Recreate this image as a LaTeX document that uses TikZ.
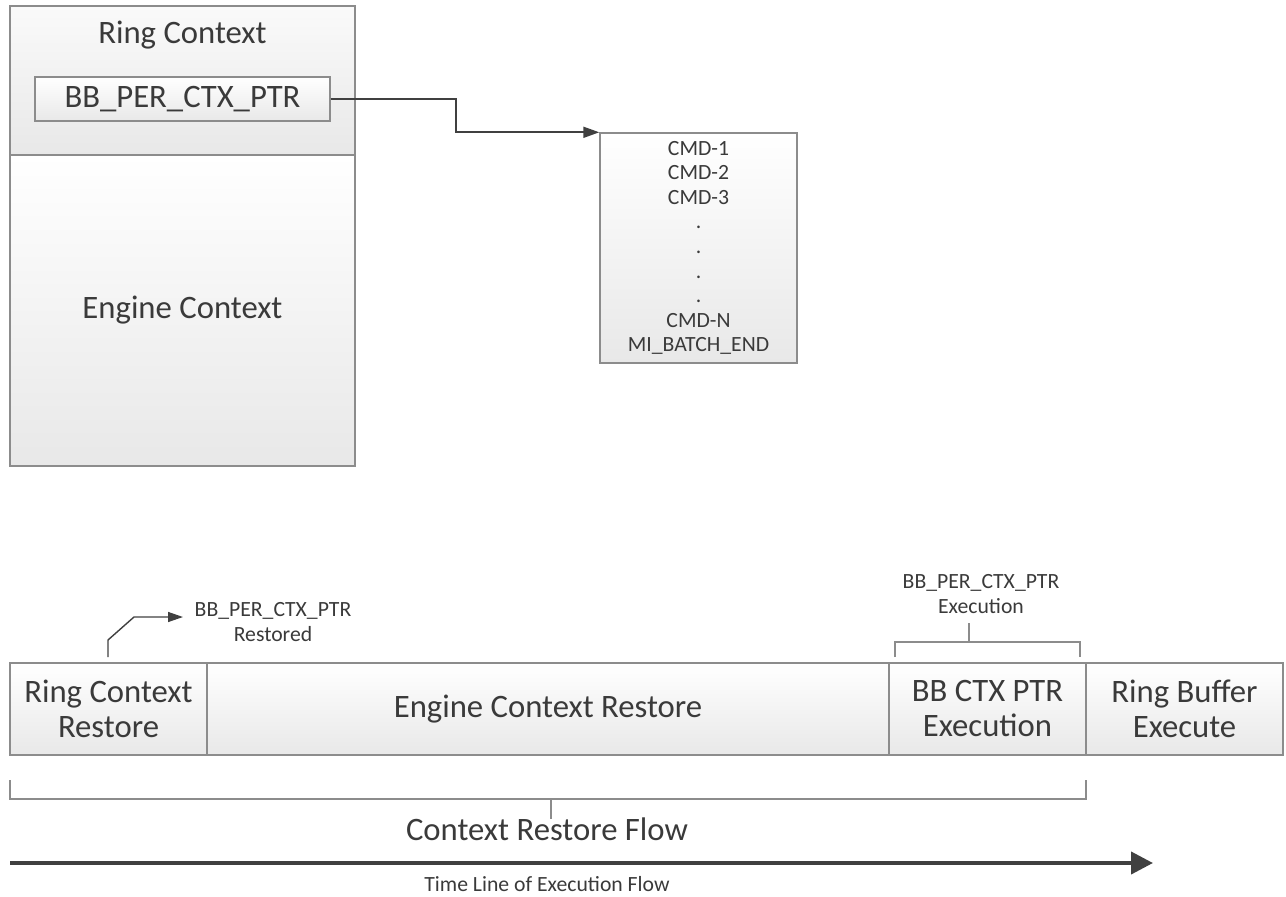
\documentclass[tikz,border=0pt]{standalone}
\usepackage{fontspec}
\setmainfont{Carlito}
\usetikzlibrary{arrows.meta,calc}
\definecolor{txt}{HTML}{3A3A3A}
\definecolor{edge}{HTML}{8C8C8C}
\definecolor{dark}{HTML}{404040}
\tikzset{
  boxline/.style={draw=edge, line width=1.4pt, inner sep=0pt},
  gfill/.style={top color=white, bottom color=black!9},
  gfilltop/.style={top color=black!2, bottom color=black!9},
  bigtxt/.style={font=\fontsize{32.7}{35}\selectfont, text=txt, align=center},
  smalltxt/.style={font=\fontsize{21.7}{24.6}\selectfont, text=txt, align=center},
  conn/.style={draw=dark, line width=1.8pt},
  brk/.style={draw=edge, line width=1.6pt},
}
\begin{document}
\begin{tikzpicture}[x=1pt,y=-1pt]
\useasboundingbox (0,0) rectangle (1286,897);

% Top-left stacked box
\node[boxline, gfilltop, minimum width=345, minimum height=149] (ringctx) at (182.5,80.5) {};
\node[boxline, gfill, minimum width=345, minimum height=311] (engctx) at (182.5,310.5) {};
\node[bigtxt] (engtxt) at (182.5,310) {Engine Context};
\node[bigtxt] (ringtxt) at (182.5,35) {Ring Context};
\node[boxline, gfill, minimum width=295, minimum height=44] (bbptr) at (182.5,99) {};
\node[bigtxt] (bbtxt) at (182.5,99) {BB\_PER\_CTX\_PTR};

% Command buffer
\node[boxline, gfill, minimum width=197, minimum height=230] (cmd) at (698.5,248) {};
\node[smalltxt] (cmdtxt) at (698.5,248) {CMD-1\\CMD-2\\CMD-3\\.\\.\\.\\.\\CMD-N\\MI\_BATCH\_END};

\draw[conn, -{Triangle[length=16pt,width=11pt]}] (bbptr.east) -- ++(125,0) |- (cmd.north west);

% Execution flow boxes
\node[boxline, gfill, minimum width=197, minimum height=92] (b1) at (108.5,709) {};
\node[boxline, gfill, minimum width=682, minimum height=92] (b2) at (548,709) {};
\node[boxline, gfill, minimum width=197, minimum height=92] (b3) at (987.5,709) {};
\node[boxline, gfill, minimum width=197, minimum height=92] (b4) at (1184.5,709) {};
\node[bigtxt] (t1) at (b1) {Ring Context\\Restore};
\node[bigtxt] (t2) at (b2) {Engine Context Restore};
\node[bigtxt] (t3) at (b3) {BB CTX PTR\\Execution};
\node[bigtxt] (t4) at (b4) {Ring Buffer\\Execute};

% Restored marker
\coordinate (rs) at (108,657);
\coordinate (rtip) at (183,617);
\draw[conn, line width=1.4pt, -{Triangle[length=15pt,width=10pt]}] (rs) -- (108,640) -- (134,617) -- (rtip);
\node[smalltxt] (rlab) at (273,622) {BB\_PER\_CTX\_PTR\\Restored};

% Bracket over BB CTX PTR Execution
\coordinate (bl) at (895,657);
\coordinate (br) at (1080,657);
\coordinate (bs) at (969,623);
\draw[brk] (bl) -- (895,642) -- (1080,642) -- (br);
\draw[brk] (969,642) -- (bs);
\node[smalltxt] (elab) at (981,594) {BB\_PER\_CTX\_PTR\\Execution};

% Context restore flow bracket
\coordinate (cl) at (10,780);
\coordinate (cr) at (1086,780);
\coordinate (cs) at (551,819);
\draw[brk] (cl) -- (10,799) -- (1086,799) -- (cr);
\draw[brk] (551,799) -- (cs);
\node[bigtxt] (crf) at (547,829) {Context Restore Flow};

% Timeline arrow
\coordinate (ta) at (10,863);
\coordinate (tb) at (1153,863);
\draw[conn, line width=4pt, -{Triangle[length=22pt,width=22pt]}] (ta) -- (tb);
\node[smalltxt] (tl) at (547,884) {Time Line of Execution Flow};
\end{tikzpicture}
\end{document}
